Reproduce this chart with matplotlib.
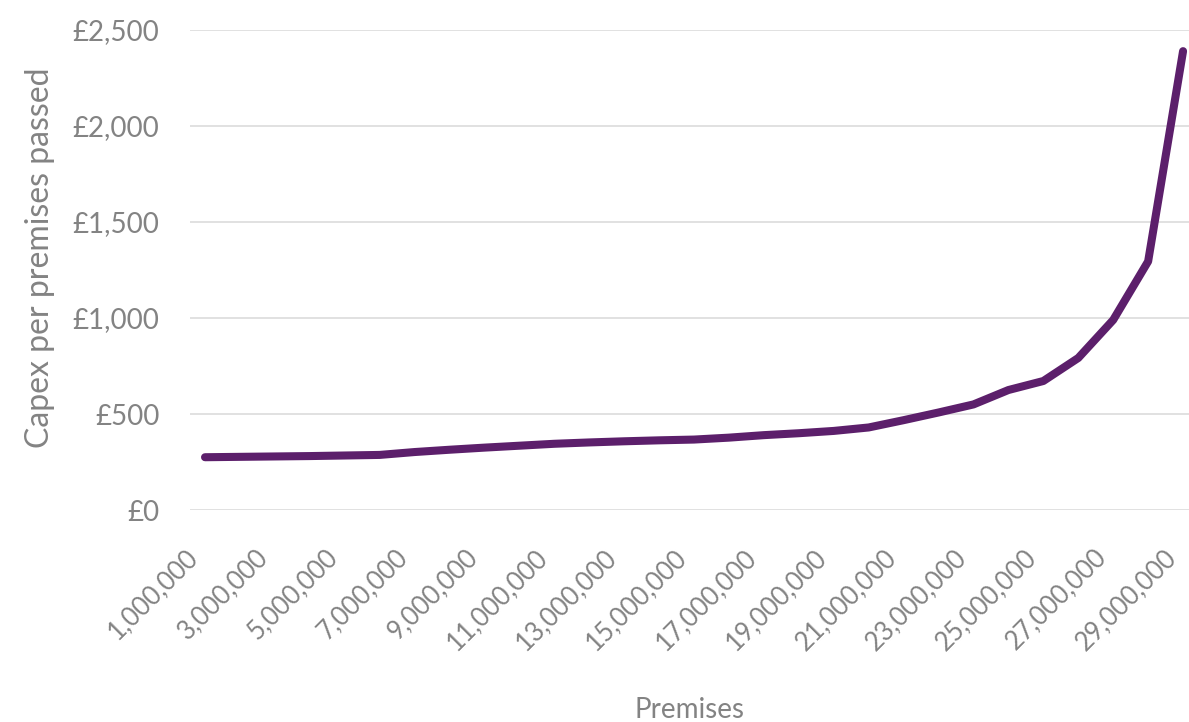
import matplotlib
matplotlib.use("Agg")
import matplotlib.pyplot as plt
from matplotlib.ticker import FuncFormatter
from matplotlib.transforms import ScaledTranslation

# Premises passed (cumulative) and capex per premises passed (GBP)
premises = [1000000, 2000000, 3000000, 4000000, 5000000, 6000000, 7000000,
            8000000, 9000000, 10000000, 11000000, 12000000, 13000000, 14000000,
            15000000, 16000000, 17000000, 18000000, 19000000, 20000000, 21000000,
            22000000, 23000000, 24000000, 25000000, 26000000, 27000000, 28000000,
            29000000]
capex = [275, 277, 279, 281, 284, 287, 302, 314, 325, 335, 345, 352, 358, 363,
         367, 377, 390, 400, 412, 430, 468, 508, 550, 625, 672, 792, 990, 1295,
         2390]

x_ticks = premises[::2]
y_ticks = [0, 500, 1000, 1500, 2000, 2500]

grey = "#838383"
plt.rcParams["font.family"] = ["Lato", "DejaVu Sans"]

fig = plt.figure(figsize=(11.89, 7.22), dpi=100)
ax = fig.add_axes([0.1598, 0.2936, 0.8402, 0.6648])

ax.plot(premises, capex, color="#5c1f6b", linewidth=5.8,
        solid_capstyle="round", solid_joinstyle="round", zorder=3)

ax.set_xlim(570000, 29170000)
ax.set_ylim(0, 2500)
ax.set_xticks(x_ticks)
ax.set_yticks(y_ticks)
ax.xaxis.set_major_formatter(FuncFormatter(lambda v, p: f"{int(v):,}"))
ax.yaxis.set_major_formatter(FuncFormatter(lambda v, p: f"£{int(v):,}"))

ax.grid(axis="y", color="#d9d9d9", linewidth=1.1, zorder=0)
ax.grid(axis="x", visible=False)
for s in ax.spines.values():
    s.set_visible(False)
ax.tick_params(axis="x", length=0, colors=grey, labelsize=18.5, pad=31)
ax.tick_params(axis="y", length=0, colors=grey, labelsize=20, pad=22)

# rotated labels: right end sits at the tick, text runs down-left
shift = ScaledTranslation(-8 / 72, 0, fig.dpi_scale_trans)
for lbl in ax.get_xticklabels():
    lbl.set_rotation(45)
    lbl.set_ha("right")
    lbl.set_va("center")
    lbl.set_rotation_mode("anchor")
    lbl.set_transform(lbl.get_transform() + shift)

ax.set_ylabel("Capex per premises passed", color=grey, fontsize=23)
ax.yaxis.set_label_coords(-0.135, 0.525)
ax.set_xlabel("Premises", color=grey, fontsize=20)
ax.xaxis.set_label_coords(0.5, -0.39)

fig.savefig("out.png", dpi=100)
